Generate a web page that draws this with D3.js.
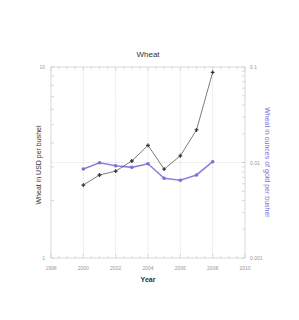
<!DOCTYPE html>
<html><head><meta charset="utf-8">
<script src="https://cdn.jsdelivr.net/npm/d3@7"></script>
<style>body{margin:0;background:#fff}svg{display:block}text{font-family:"Liberation Sans",Arial,sans-serif}</style>
</head><body><svg id="c" width="299" height="320"></svg>
<script>
const years = [2000,2001,2002,2003,2004,2005,2006,2007,2008];
const usdPerBushel = [2.41,2.72,2.85,3.22,3.89,2.92,3.43,4.68,9.38];
const goldPerBushel = [0.00855,0.00995,0.00926,0.0089,0.0097,0.00683,0.00651,0.0074,0.0102];
const xTicks = [1998,2000,2002,2004,2006,2008,2010];
const leftTicks = [1,10];
const rightTicks = [0.001,0.01,0.1];

const svg = d3.select("#c");
const L=51, R=245, T=67, B=258;
const x = d3.scaleLinear().domain([1998,2010]).range([L,R]);
const yL = d3.scaleLog().domain([1,10]).range([B,T]);
const yR = d3.scaleLog().domain([0.001,0.1]).range([B,T]);
const grey="#ccc", lab="#999";

// grid
const g = svg.append("g");
g.selectAll("line.vg").data([2000,2002,2004,2006,2008]).join("line")
 .attr("x1",d=>x(d)).attr("x2",d=>x(d)).attr("y1",T).attr("y2",B)
 .attr("stroke","#ddd").attr("stroke-width",0.8).attr("stroke-dasharray","1.5,1");
g.append("line").attr("x1",L).attr("x2",R).attr("y1",yR(0.01)).attr("y2",yR(0.01))
 .attr("stroke","#ddd").attr("stroke-width",0.8).attr("stroke-dasharray","1.5,1");

// frame
svg.append("rect").attr("x",L).attr("y",T).attr("width",R-L).attr("height",B-T)
 .attr("fill","none").attr("stroke",grey).attr("stroke-width",0.8);

// minor ticks
const xMinor = d3.range(1998,2010.01,0.5);
const tk = svg.append("g").attr("stroke",grey).attr("stroke-width",0.7);
xMinor.forEach(v=>{
  const len = (v%2===0)?4:2.5;
  tk.append("line").attr("x1",x(v)).attr("x2",x(v)).attr("y1",B).attr("y2",B-len);
  tk.append("line").attr("x1",x(v)).attr("x2",x(v)).attr("y1",T).attr("y2",T+len);
});
d3.range(1,11).forEach(v=>{
  tk.append("line").attr("x1",L).attr("x2",L+3).attr("y1",yL(v)).attr("y2",yL(v));
});
[0.001,0.01].forEach(b=>d3.range(1,11).forEach(k=>{
  const v=b*k;
  tk.append("line").attr("x1",R).attr("x2",R-3).attr("y1",yR(v)).attr("y2",yR(v));
}));

// tick labels
svg.append("g").selectAll("text").data(xTicks).join("text")
 .attr("x",d=>x(d)).attr("y",B+12).attr("text-anchor","middle")
 .attr("font-size",5).attr("fill",lab).text(d=>d);
svg.append("g").selectAll("text").data(leftTicks).join("text")
 .attr("x",L-6).attr("y",d=>yL(d)+2).attr("text-anchor","end")
 .attr("font-size",5).attr("fill",lab).text(d=>d);
svg.append("g").selectAll("text").data(rightTicks).join("text")
 .attr("x",R+5).attr("y",d=>yR(d)+2).attr("text-anchor","start")
 .attr("font-size",5).attr("fill",lab).text(d=>d);

// titles
svg.append("text").attr("x",(L+R)/2).attr("y",57).attr("text-anchor","middle")
 .attr("font-size",8).attr("fill","#333").text("Wheat");
svg.append("text").attr("x",(L+R)/2).attr("y",282).attr("text-anchor","middle")
 .attr("font-size",7).attr("font-weight","bold").attr("fill","#333").text("Year");
svg.append("text").attr("transform",`translate(41,165) rotate(-90)`)
 .attr("text-anchor","middle").attr("font-size",7).attr("fill","#333").text("Wheat in USD per bushel");
svg.append("text").attr("transform",`translate(265,162) rotate(90)`)
 .attr("text-anchor","middle").attr("font-size",7).attr("fill","#7b6fd8").text("Wheat in ounces of gold per bushel");

// series
const lineL = d3.line().x((d,i)=>x(years[i])).y(d=>yL(d));
const lineR = d3.line().x((d,i)=>x(years[i])).y(d=>yR(d));
svg.append("path").datum(goldPerBushel).attr("d",lineR).attr("fill","none")
 .attr("stroke","#8c80e0").attr("stroke-width",1.6);
svg.append("g").selectAll("circle").data(goldPerBushel).join("circle")
 .attr("cx",(d,i)=>x(years[i])).attr("cy",d=>yR(d)).attr("r",1.8).attr("fill","#7b6fd8");
svg.append("path").datum(usdPerBushel).attr("d",lineL).attr("fill","none")
 .attr("stroke","#444").attr("stroke-width",0.7);
svg.append("g").selectAll("path.m").data(usdPerBushel).join("path")
 .attr("transform",(d,i)=>`translate(${x(years[i])},${yL(d)})`)
 .attr("d",d3.symbol(d3.symbolCross,8)).attr("fill","#333");
</script></body></html>
